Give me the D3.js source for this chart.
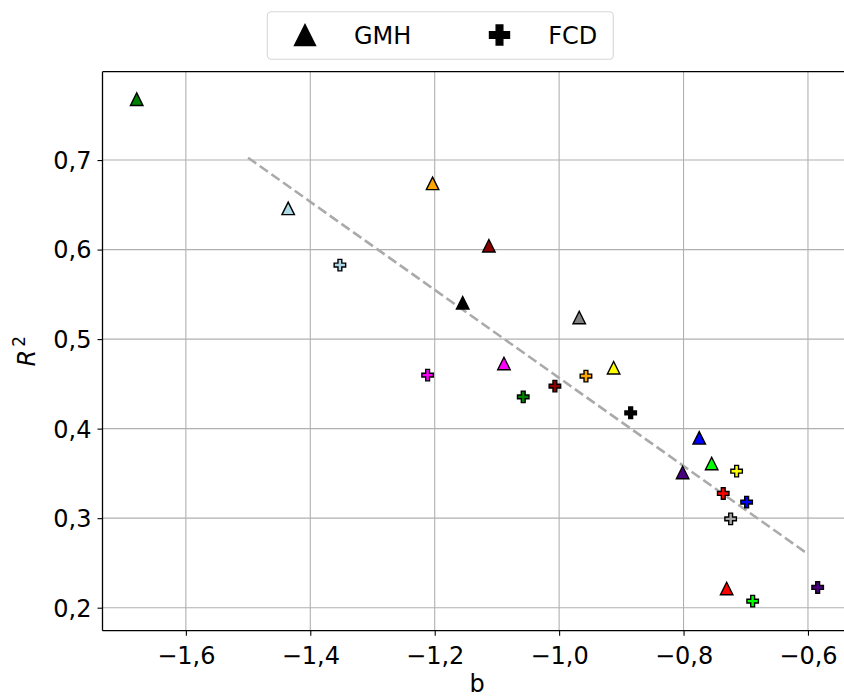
<!DOCTYPE html>
<html>
<head>
<meta charset="utf-8">
<script src="https://cdn.jsdelivr.net/npm/d3@7"></script>
<style>
  body { margin: 0; background: #fff; }
  svg { display: block; font-family: "DejaVu Sans", sans-serif; }
</style>
</head>
<body>
<svg id="chart" width="844" height="698"></svg>
<script>
// ---- data ----
const colors = ["#008000", "#add8e6", "#ffa500", "#8b0000", "#000000", "#808080",
                "#ff00ff", "#ffff00", "#0000ff", "#00ff00", "#4b0082", "#ff0000"];
const gmhB  = [-1.679, -1.4355, -1.2034, -1.1129, -1.155, -0.9677, -1.0887, -0.9124, -0.7748, -0.7548, -0.8015, -0.7307];
const gmhR2 = [0.768, 0.646, 0.674, 0.6043, 0.5406, 0.5242, 0.4728, 0.468, 0.3897, 0.3611, 0.351, 0.2215];
const fcdB  = [-1.3524, -1.2114, -1.0577, -1.0068, -0.9569, -0.885, -0.7147, -0.7362, -0.6986, -0.7243, -0.6889, -0.5844];
const fcdR2 = [0.5827, 0.4598, 0.4355, 0.4475, 0.4587, 0.4177, 0.3525, 0.3276, 0.3179, 0.2992, 0.2073, 0.2226];
const fcdColors = ["#add8e6", "#ff00ff", "#008000", "#8b0000", "#ffa500", "#000000",
                   "#ffff00", "#ff0000", "#0000ff", "#a9a9a9", "#00ff00", "#4b0082"];
const fitB  = [-1.5, -0.6];
const fitR2 = [0.7026, 0.2599];
const xTicks = [-1.6, -1.4, -1.2, -1.0, -0.8, -0.6];
const yTicks = [0.2, 0.3, 0.4, 0.5, 0.6, 0.7];
const seriesNames = ["GMH", "FCD"];

// ---- layout ----
const svg = d3.select("#chart");
const L = 102.5, R = 851.7, T = 71.7, B = 630.7;
const x = d3.scaleLinear().domain([-1.734, -0.5297]).range([L, R]);
const y = d3.scaleLinear().domain([0.1743, 0.7987]).range([B, T]);
const fmt = v => d3.format(".1f")(v).replace("-", "\u2212").replace(".", ",");
const FS = 24;

// grid
svg.append("g").selectAll("line").data(xTicks).join("line")
  .attr("x1", d => x(d)).attr("x2", d => x(d)).attr("y1", T).attr("y2", B)
  .attr("stroke", "#b0b0b0").attr("stroke-width", 1.1);
svg.append("g").selectAll("line").data(yTicks).join("line")
  .attr("y1", d => y(d)).attr("y2", d => y(d)).attr("x1", L).attr("x2", R)
  .attr("stroke", "#b0b0b0").attr("stroke-width", 1.1);

// axes
const xAxis = d3.axisBottom(x).tickValues(xTicks).tickFormat(fmt).tickSize(5).tickPadding(6);
const yAxis = d3.axisLeft(y).tickValues(yTicks).tickFormat(fmt).tickSize(5).tickPadding(6);
const gx = svg.append("g").attr("transform", `translate(0,${B})`).call(xAxis);
const gy = svg.append("g").attr("transform", `translate(${L},0)`).call(yAxis);
[gx, gy].forEach(g => {
  g.select(".domain").remove();
  g.selectAll(".tick line").attr("stroke", "#000").attr("stroke-width", 1.1);
  g.selectAll(".tick text").attr("fill", "#000").attr("font-size", FS)
    .attr("font-family", "DejaVu Sans, sans-serif");
});
gy.selectAll(".tick text").attr("dy", "0.35em");
gx.selectAll(".tick text").attr("dy", "0.95em");

// regression line
svg.append("line")
  .attr("x1", x(fitB[0])).attr("y1", y(fitR2[0]))
  .attr("x2", x(fitB[1])).attr("y2", y(fitR2[1]))
  .attr("stroke", "#aaaaaa").attr("stroke-width", 2.6)
  .attr("stroke-dasharray", "10,4.3");

// markers
const triPath = s => `M0,${-s/2}L${s/2},${s/2}L${-s/2},${s/2}Z`;
const plusPath = s => {
  const a = s / 2, b = s / 6;
  return `M${-b},${-a}H${b}V${-b}H${a}V${b}H${b}V${a}H${-b}V${b}H${-a}V${-b}H${-b}Z`;
};
const gmh = gmhB.map((b, i) => ({ b, r: gmhR2[i], c: colors[i] }));
const fcd = fcdB.map((b, i) => ({ b, r: fcdR2[i], c: fcdColors[i] }));

svg.append("g").selectAll("path").data(gmh).join("path")
  .attr("d", triPath(12.5))
  .attr("transform", d => `translate(${x(d.b)},${y(d.r)})`)
  .attr("fill", d => d.c).attr("stroke", "#000").attr("stroke-width", 1.4)
  .attr("stroke-linejoin", "miter");
svg.append("g").selectAll("path").data(fcd).join("path")
  .attr("d", plusPath(11.5))
  .attr("transform", d => `translate(${x(d.b)},${y(d.r)})`)
  .attr("fill", d => d.c).attr("stroke", "#000").attr("stroke-width", 1.4);

// spines
svg.append("line").attr("x1", L).attr("x2", L).attr("y1", T).attr("y2", B)
  .attr("stroke", "#000").attr("stroke-width", 1.3);
svg.append("line").attr("x1", L).attr("x2", R).attr("y1", B).attr("y2", B)
  .attr("stroke", "#000").attr("stroke-width", 1.3);
svg.append("line").attr("x1", L).attr("x2", R).attr("y1", T).attr("y2", T)
  .attr("stroke", "#000").attr("stroke-width", 1.3);
svg.append("line").attr("x1", R).attr("x2", R).attr("y1", T).attr("y2", B)
  .attr("stroke", "#000").attr("stroke-width", 1.3);

// axis labels
svg.append("text").attr("x", (L + R) / 2).attr("y", 692)
  .attr("text-anchor", "middle").attr("font-size", FS).text("b");
const yl = svg.append("text")
  .attr("transform", `translate(35,${(T + B) / 2}) rotate(-90)`)
  .attr("text-anchor", "middle").attr("font-size", FS);
yl.append("tspan").attr("font-style", "italic").text("R");
yl.append("tspan").attr("font-size", FS * 0.7).attr("dy", -10).attr("dx", 3).text("2");

// legend
const lg = svg.append("g");
lg.append("rect").attr("x", 267.3).attr("y", 11.7).attr("width", 346).attr("height", 47.6)
  .attr("rx", 4).attr("fill", "#fff").attr("fill-opacity", 0.8)
  .attr("stroke", "#d6d6d6").attr("stroke-width", 1.1);
lg.append("path").attr("d", triPath(21)).attr("transform", "translate(305,35)")
  .attr("fill", "#000").attr("stroke", "#000").attr("stroke-width", 1.4);
lg.append("text").attr("x", 354).attr("y", 43.5).attr("font-size", FS).text(seriesNames[0]);
lg.append("path").attr("d", plusPath(20)).attr("transform", "translate(499.5,35)")
  .attr("fill", "#000").attr("stroke", "#000").attr("stroke-width", 1.4);
lg.append("text").attr("x", 548.3).attr("y", 43.5).attr("font-size", FS).text(seriesNames[1]);
</script>
</body>
</html>
